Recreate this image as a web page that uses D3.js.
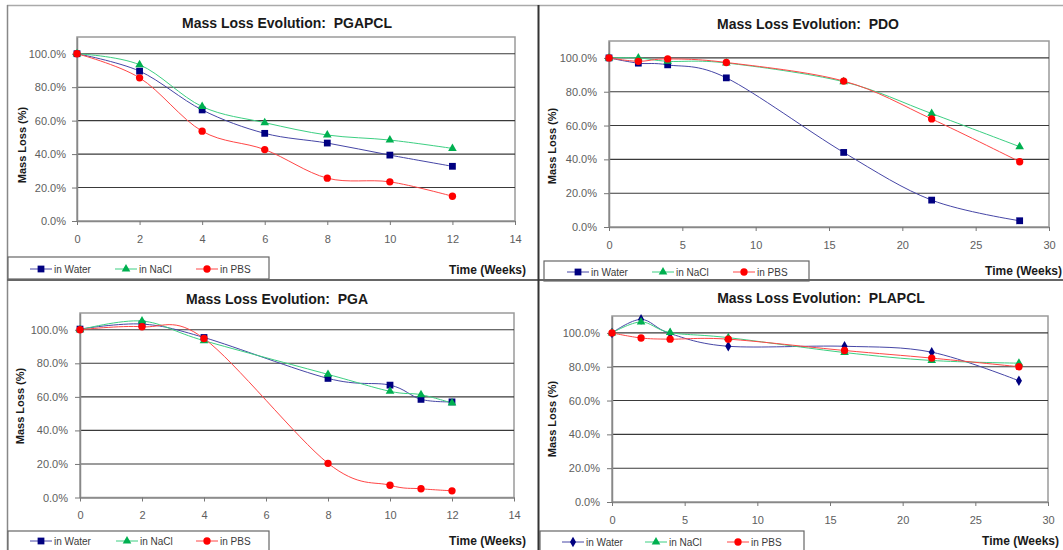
<!DOCTYPE html>
<html><head><meta charset="utf-8">
<script src="https://cdn.jsdelivr.net/npm/d3@7"></script>
<style>
body{margin:0;background:#fff}
svg{display:block}
text{font-family:"Liberation Sans",Arial,sans-serif}
</style>
</head><body>
<svg id="c" width="1063" height="550"></svg>
<script>
// ---------------- DATA ----------------
const seriesNames = ["in Water", "in NaCl", "in PBS"];
const yTicks = [0, 0.2, 0.4, 0.6, 0.8, 1.0];
const xAxisTitle = "Time (Weeks)";
const yAxisTitle = "Mass Loss (%)";

const pgapclTitle = "Mass Loss Evolution:  PGAPCL";
const pgapclXTicks = [0, 2, 4, 6, 8, 10, 12, 14];
const pgapclWeeks = [0, 2, 4, 6, 8, 10, 12];
const pgapclWater = [1.00, 0.896, 0.664, 0.524, 0.466, 0.394, 0.327];
const pgapclNaCl  = [1.00, 0.934, 0.684, 0.588, 0.514, 0.484, 0.434];
const pgapclPBS   = [1.00, 0.856, 0.537, 0.427, 0.256, 0.234, 0.148];

const pdoTitle = "Mass Loss Evolution:  PDO";
const pdoXTicks = [0, 5, 10, 15, 20, 25, 30];
const pdoWeeks = [0, 2, 4, 8, 16, 22, 28];
const pdoWater = [1.00, 0.969, 0.959, 0.882, 0.441, 0.159, 0.037];
const pdoNaCl  = [1.00, 1.00, 0.980, 0.970, 0.859, 0.671, 0.475];
const pdoPBS   = [1.00, 0.980, 0.994, 0.973, 0.863, 0.639, 0.386];

const pgaTitle = "Mass Loss Evolution:  PGA";
const pgaXTicks = [0, 2, 4, 6, 8, 10, 12, 14];
const pgaWeeks = [0, 2, 4, 8, 10, 11, 12];
const pgaWater = [1.004, 1.034, 0.954, 0.710, 0.670, 0.585, 0.570];
const pgaNaCl  = [1.00, 1.052, 0.935, 0.734, 0.633, 0.613, 0.563];
const pgaPBS   = [1.00, 1.018, 0.948, 0.204, 0.073, 0.052, 0.040];

const plapclTitle = "Mass Loss Evolution:  PLAPCL";
const plapclXTicks = [0, 5, 10, 15, 20, 25, 30];
const plapclWeeks = [0, 2, 4, 8, 16, 22, 28];
const plapclWater = [1.00, 1.080, 0.996, 0.921, 0.921, 0.886, 0.717];
const plapclNaCl  = [1.00, 1.065, 1.002, 0.972, 0.884, 0.837, 0.821];
const plapclPBS   = [1.00, 0.970, 0.963, 0.963, 0.896, 0.851, 0.800];

// ---------------- STYLE ----------------
const lineColors = ["#4646a6", "#3ccf82", "#ff4646"];
const markColors = ["#000080", "#00b050", "#ff0000"];

const svg = d3.select("#c");

function symbolFor(i, diamond) {
  if (i === 0) return diamond ? d3.symbol(d3.symbolDiamond, 32) : d3.symbol(d3.symbolSquare, 46);
  if (i === 1) return d3.symbol(d3.symbolTriangle, 32);
  return d3.symbol(d3.symbolCircle, 42);
}

function drawPanel(cfg) {
  const g = svg.append("g");
  const x = d3.scaleLinear().domain([0, cfg.xMax]).range([cfg.l, cfg.r]);
  const y = d3.scaleLinear().domain([0, 1.1]).range([cfg.b, cfg.t]);

  // title
  g.append("text").attr("x", cfg.titleX).attr("y", cfg.titleY).attr("text-anchor", "middle")
    .attr("dominant-baseline", "central").attr("font-size", 14).attr("font-weight", "bold")
    .attr("fill", "#1a1a1a").style("white-space", "pre").text(cfg.title);

  // plot border
  g.append("rect").attr("x", cfg.l).attr("y", y(1.1)).attr("width", cfg.r - cfg.l)
    .attr("height", y(0) - y(1.1)).attr("fill", "#fff").attr("stroke", "#9a9a9a").attr("stroke-width", 1.5);

  // gridlines
  g.append("g").selectAll("line").data(yTicks.filter(d => d > 0)).join("line")
    .attr("x1", cfg.l).attr("x2", cfg.r).attr("y1", d => y(d)).attr("y2", d => y(d))
    .attr("stroke", "#3a3a3a").attr("stroke-width", 1.1);

  // axes
  const ya = g.append("g").attr("transform", `translate(${cfg.l},0)`)
    .call(d3.axisLeft(y).tickValues(yTicks).tickFormat(d3.format(".1%")).tickSize(5).tickSizeOuter(0).tickPadding(cfg.yPad));
  const xa = g.append("g").attr("transform", `translate(0,${y(0)})`)
    .call(d3.axisBottom(x).tickValues(cfg.xTicks).tickSize(4).tickSizeOuter(0).tickPadding(10));
  [ya, xa].forEach(a => {
    a.select(".domain").attr("stroke", "#888").attr("stroke-width", 1.5);
    a.selectAll(".tick line").attr("stroke", "#777").attr("stroke-width", 1);
    a.selectAll(".tick text").attr("fill", "#5e5e5e").attr("font-size", 11)
      .attr("font-family", "Liberation Sans, Arial, sans-serif");
  });

  // axis titles
  g.append("text").attr("transform", `translate(${cfg.yTitleX},${cfg.yTitleY}) rotate(-90)`)
    .attr("text-anchor", "middle").attr("dominant-baseline", "central")
    .attr("font-size", 11).attr("font-weight", "bold").attr("fill", "#1a1a1a").text(yAxisTitle);
  g.append("text").attr("x", cfg.xTitleX).attr("y", cfg.xTitleY).attr("text-anchor", "end")
    .attr("dominant-baseline", "central").attr("font-size", 12).attr("font-weight", "bold")
    .attr("fill", "#1a1a1a").text(xAxisTitle);

  // series
  const line = d3.line().x(d => x(d[0])).y(d => y(d[1])).curve(d3.curveCardinal.tension(0));
  cfg.series.forEach((vals, i) => {
    const pts = cfg.weeks.map((w, k) => [w, vals[k]]);
    g.append("path").datum(pts).attr("d", line).attr("fill", "none")
      .attr("stroke", lineColors[i]).attr("stroke-width", 1);
  });
  cfg.series.forEach((vals, i) => {
    const pts = cfg.weeks.map((w, k) => [w, vals[k]]);
    g.append("g").selectAll("path").data(pts).join("path")
      .attr("transform", d => `translate(${x(d[0])},${y(d[1])})`)
      .attr("d", symbolFor(i, cfg.diamond)).attr("fill", markColors[i]);
  });

  // legend
  const L = cfg.legend;
  g.append("rect").attr("x", L.x).attr("y", L.y).attr("width", L.w).attr("height", L.h)
    .attr("fill", "#fff").attr("stroke", "#666").attr("stroke-width", 1.2);
  seriesNames.forEach((name, i) => {
    const lx = L.items[i];
    g.append("line").attr("x1", lx).attr("x2", lx + 22).attr("y1", L.ty).attr("y2", L.ty)
      .attr("stroke", lineColors[i]).attr("stroke-width", 1);
    g.append("path").attr("transform", `translate(${lx + 11},${L.ty})`)
      .attr("d", symbolFor(i, cfg.diamond)).attr("fill", markColors[i]);
    g.append("text").attr("x", lx + 24).attr("y", L.ty).attr("dominant-baseline", "central")
      .attr("font-size", 10).attr("fill", "#3a3a3a").text(name);
  });
}

// frame lines
svg.append("line").attr("x1", 7).attr("x2", 1063).attr("y1", 5.5).attr("y2", 5.5).attr("stroke", "#aaa").attr("stroke-width", 1.5);
svg.append("line").attr("x1", 7.5).attr("x2", 7.5).attr("y1", 5).attr("y2", 550).attr("stroke", "#888").attr("stroke-width", 1.5);

drawPanel({title: pgapclTitle, titleX: 287, titleY: 23, xMax: 14, xTicks: pgapclXTicks,
  l: 77, r: 515, t: 37, b: 221, yPad: 6, yTitleX: 22, yTitleY: 145, xTitleX: 526, xTitleY: 270,
  weeks: pgapclWeeks, series: [pgapclWater, pgapclNaCl, pgapclPBS],
  legend: {x: 8, y: 257, w: 261, h: 22, ty: 269, items: [30, 115, 196]}});

drawPanel({title: pdoTitle, titleX: 808, titleY: 24, xMax: 30, xTicks: pdoXTicks,
  l: 609, r: 1049, t: 41, b: 227, yPad: 7, yTitleX: 552, yTitleY: 146, xTitleX: 1062, xTitleY: 271,
  weeks: pdoWeeks, series: [pdoWater, pdoNaCl, pdoPBS],
  legend: {x: 544, y: 261, w: 265, h: 20, ty: 272, items: [567, 652, 733]}});

drawPanel({title: pgaTitle, titleX: 277, titleY: 299, xMax: 14, xTicks: pgaXTicks,
  l: 80, r: 514, t: 313, b: 497.5, yPad: 7, yTitleX: 20, yTitleY: 406, xTitleX: 526, xTitleY: 541,
  weeks: pgaWeeks, series: [pgaWater, pgaNaCl, pgaPBS],
  legend: {x: 8, y: 531, w: 261, h: 22, ty: 541, items: [30, 116, 196]}});

drawPanel({title: plapclTitle, titleX: 821, titleY: 298, xMax: 30, xTicks: plapclXTicks, diamond: true,
  l: 612, r: 1048, t: 316, b: 502, yPad: 7, yTitleX: 552, yTitleY: 419, xTitleX: 1059, xTitleY: 541,
  weeks: plapclWeeks, series: [plapclWater, plapclNaCl, plapclPBS],
  legend: {x: 540, y: 531, w: 264, h: 22, ty: 542, items: [562, 645, 727]}});

// dividers
svg.append("line").attr("x1", 7).attr("x2", 1063).attr("y1", 280).attr("y2", 280).attr("stroke", "#666").attr("stroke-width", 2);
svg.append("line").attr("x1", 538.5).attr("x2", 538.5).attr("y1", 5).attr("y2", 550).attr("stroke", "#333").attr("stroke-width", 2);
</script>
</body></html>
